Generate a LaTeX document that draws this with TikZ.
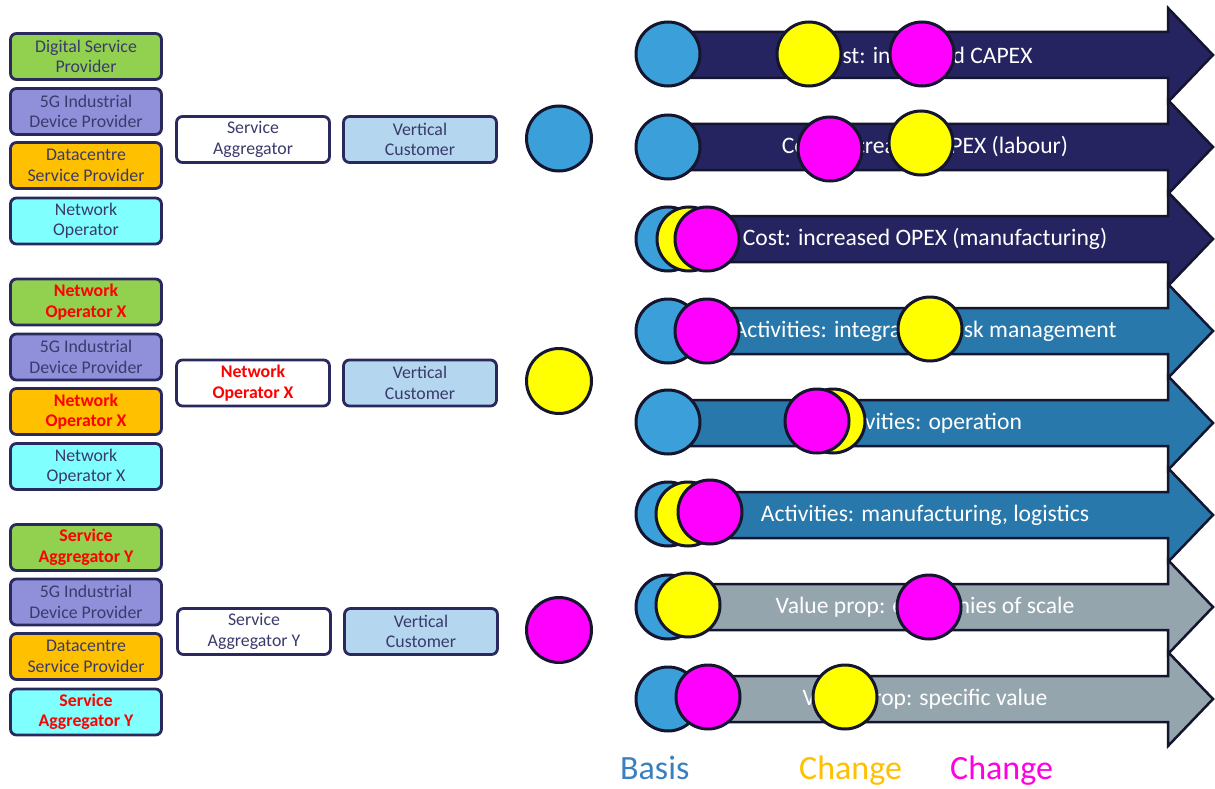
\documentclass[tikz,border=0pt]{standalone}
\usepackage{fontspec}
\setmainfont{Carlito}
\definecolor{edge}{HTML}{2A295E}
\definecolor{boxtext}{HTML}{3A3A6C}
\definecolor{cgreen}{HTML}{92D050}
\definecolor{cpurple}{HTML}{9090DA}
\definecolor{corange}{HTML}{FFC000}
\definecolor{ccyan}{HTML}{80FFFF}
\definecolor{clight}{HTML}{B4D6EE}
\definecolor{arrnavy}{HTML}{252360}
\definecolor{arrsteel}{HTML}{2878AB}
\definecolor{arrgrey}{HTML}{95A5AD}
\definecolor{arredge}{HTML}{14152E}
\definecolor{dotblue}{HTML}{3BA0DA}
\definecolor{dotyellow}{HTML}{FFFF00}
\definecolor{dotmagenta}{HTML}{FF00FF}
\definecolor{lblblue}{HTML}{3A80C0}
\definecolor{lblyellow}{HTML}{FFC000}
\definecolor{lblmagenta}{HTML}{FF00E0}
\newcommand{\hl}[1]{\textcolor{red}{\bfseries #1}}
\begin{document}
\begin{tikzpicture}[x=1pt,y=-1pt,
  party/.style={draw=edge, line width=2.8pt, rounded corners=6pt,
    minimum width=151pt, minimum height=46pt, inner sep=0pt, align=center,
    text=boxtext, font=\fontsize{17.8}{20.5}\selectfont},
  midbox/.style={party, minimum width=153pt, fill=white},
  vcbox/.style={party, minimum width=153pt, fill=clight},
  dot/.style={circle, draw=arredge, line width=3pt, minimum size=64pt, inner sep=0pt},
  bigdot/.style={dot, minimum size=65pt},
  arrowlabel/.style={text=white, font=\fontsize{23.6}{27}\selectfont, inner sep=0pt},
  keylabel/.style={font=\fontsize{34}{40}\selectfont, inner sep=0pt, anchor=base west},
  bigarrow/.style={draw=arredge, line width=2.5pt, line join=miter}
]
\useasboundingbox (0,0) rectangle (1215,789);

% ---- first scenario: generic roles ----
\node[party, fill=cgreen]  (g1a) at (86,56.5)  {Digital Service\\Provider};
\node[party, fill=cpurple] (g1b) at (86,111.5) {5G Industrial\\Device Provider};
\node[party, fill=corange] (g1c) at (86,165.5) {Datacentre\\Service Provider};
\node[party, fill=ccyan]   (g1d) at (86,221)   {Network\\Operator};
\node[midbox] (g1agg) at (253,139.5) {Service\\Aggregator};
\node[vcbox]  (g1vc)  at (420,139.5) {Vertical\\Customer};
\node[bigdot, fill=dotblue] (g1dot) at (559,138.5) {};

% ---- second scenario: network operator takes several roles ----
\node[party, fill=cgreen]  (g2a) at (86,302)   {\hl{Network}\\\hl{Operator X}};
\node[party, fill=cpurple] (g2b) at (86,357)   {5G Industrial\\Device Provider};
\node[party, fill=corange] (g2c) at (86,411.5) {\hl{Network}\\\hl{Operator X}};
\node[party, fill=ccyan]   (g2d) at (86,466.5) {Network\\Operator X};
\node[midbox] (g2agg) at (253,383) {\hl{Network}\\\hl{Operator X}};
\node[vcbox]  (g2vc)  at (420,383) {Vertical\\Customer};
\node[bigdot, fill=dotyellow] (g2dot) at (559,381) {};

% ---- third scenario: service aggregator takes several roles ----
\node[party, fill=cgreen]  (g3a) at (86,547.5) {\hl{Service}\\\hl{Aggregator Y}};
\node[party, fill=cpurple] (g3b) at (86,602)   {5G Industrial\\Device Provider};
\node[party, fill=corange] (g3c) at (86,656.5) {Datacentre\\Service Provider};
\node[party, fill=ccyan]   (g3d) at (86,712)   {\hl{Service}\\\hl{Aggregator Y}};
\node[midbox] (g3agg) at (254,631.5) {Service\\Aggregator Y};
\node[vcbox]  (g3vc)  at (421,631.5) {Vertical\\Customer};
\node[bigdot, fill=dotmagenta] (g3dot) at (559,630) {};

% ---- dimension arrows ----
\foreach \i/\col/\txt in {
  0/arrnavy/{Cost: increased CAPEX},
  1/arrnavy/{Cost: increased OPEX (labour)},
  2/arrnavy/{Cost: increased OPEX (manufacturing)},
  3/arrsteel/{Activities: integration, risk management},
  4/arrsteel/{Activities: operation},
  5/arrsteel/{Activities: manufacturing, logistics},
  6/arrgrey/{Value prop: economies of scale},
  7/arrgrey/{Value prop: specific value}}{
  \pgfmathsetmacro{\cy}{55+92*\i}
  \draw[bigarrow, fill=\col]
    (668,\cy-23) -- (1168,\cy-23) -- (1168,\cy-47) -- (1213,\cy)
    -- (1168,\cy+47) -- (1168,\cy+23) -- (668,\cy+23) -- cycle;
  \node[arrowlabel] (lab\i) at (925,\cy) {\txt};
}

% ---- position markers on each arrow ----
\foreach \x/\y/\c [count=\n] in {
  668/54/dotblue, 809/54/dotyellow, 922/54/dotmagenta,
  668/147/dotblue, 830/149/dotmagenta, 921/143/dotyellow,
  668/239/dotblue, 689/239/dotyellow, 707/239/dotmagenta,
  668/331/dotblue, 707/331/dotmagenta, 930/329/dotyellow,
  668/422/dotblue, 833/421/dotyellow, 817/421/dotmagenta,
  668/514/dotblue, 688/514/dotyellow, 710/512/dotmagenta,
  668/607/dotblue, 688/605/dotyellow, 929/607/dotmagenta,
  668/699/dotblue, 708/697/dotmagenta, 845/697/dotyellow}{
  \node[dot, fill=\c] (m\n) at (\x,\y) {};
}

% ---- key ----
\node[keylabel, text=lblblue]    (kbasis) at (620,779) {Basis};
\node[keylabel, text=lblyellow]  (kchg1)  at (799,779) {Change};
\node[keylabel, text=lblmagenta] (kchg2)  at (950,779) {Change};
\end{tikzpicture}
\end{document}
